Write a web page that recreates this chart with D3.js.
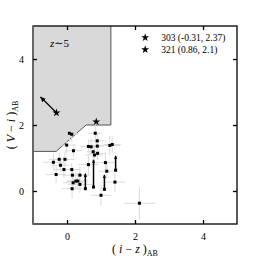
<!DOCTYPE html>
<html>
<head>
<meta charset="utf-8">
<script src="https://cdn.jsdelivr.net/npm/d3@7"></script>
<style>
  body { margin: 0; background: #fff; }
  text { font-family: "Liberation Serif", "DejaVu Serif", serif; fill: #000; }
</style>
</head>
<body>
<div id="chart"></div>
<script>
const xTicks = [0, 2, 4];
const yTicks = [0, 2, 4];

// z~5 selection region
const regionX = [-1, -1, -0.32, 0.56, 1.29, 1.29];
const regionY = [5, 1.2, 1.2, 2.0, 2.0, 5];

// sample points with errors
const ptX = [0.07, 0.14, -0.01, 0.19, 0.83, 0.89, 0.89, 0.71, 0.63, 0.77, 0.90, 1.26, 1.33,
  -0.23, -0.06, -0.19, -0.40, -0.09, 0.14, -0.32, 0.16, 0.63, 1.13, 1.17, 1.41, 1.00, 0.38,
  0.26, 0.18, 0.38, 0.15, 0.32, 0.81, 2.13];
const ptY = [1.75, 1.72, 1.39, 1.22, 1.75, 1.52, 1.36, 1.34, 1.35, 1.19, 1.14, 1.38, 1.41,
  0.96, 0.96, 0.78, 0.87, 0.65, 0.65, 0.50, 0.48, 0.80, 0.86, 0.60, 0.27, -0.13, 0.48,
  0.30, 0.25, 0.20, 0.07, 0.30, 1.09, -0.37];
const ptXErr = [0.25, 0.2, 0.3, 0.25, 0.2, 0.25, 0.2, 0.3, 0.25, 0.2, 0.25, 0.3, 0.25,
  0.3, 0.3, 0.25, 0.3, 0.3, 0.25, 0.3, 0.3, 0.3, 0.3, 0.25, 0.3, 0.3, 0.3,
  0.3, 0.3, 0.35, 0.3, 0.3, 0.25, 0.46];
const ptYErr = [0.28, 0.25, 0.25, 0.2, 0.3, 0.25, 0.2, 0.25, 0.2, 0.25, 0.2, 0.3, 0.25,
  0.25, 0.25, 0.2, 0.25, 0.25, 0.2, 0.25, 0.25, 0.3, 0.3, 0.25, 0.3, 0.3, 0.25,
  0.25, 0.25, 0.25, 0.3, 0.25, 0.3, 0.5];

// lower-limit segments
const limX = [0.54, 0.78, 1.10, 1.43];
const limLo = [0.07, 0.12, 0.05, 0.63];
const limHi = [0.52, 0.94, 0.48, 1.06];

// highlighted objects
const starNames = ['303', '321'];
const starX = [-0.31, 0.86];
const starY = [2.37, 2.1];
const arrowTo = [-0.77, 2.84];

const width = 264, height = 264;
const margin = { top: 26, right: 27, bottom: 40, left: 33 };
const innerW = width - margin.left - margin.right;
const innerH = height - margin.top - margin.bottom;

const svg = d3.select('#chart').append('svg')
  .attr('width', width).attr('height', height);

const defs = svg.append('defs');
defs.append('clipPath').attr('id', 'clip')
  .append('rect').attr('width', innerW).attr('height', innerH);

const marker = (id, size) => defs.append('marker')
  .attr('id', id).attr('viewBox', '0 0 10 10')
  .attr('refX', 8).attr('refY', 5)
  .attr('markerWidth', size).attr('markerHeight', size)
  .attr('markerUnits', 'userSpaceOnUse')
  .attr('orient', 'auto')
  .append('path').attr('d', 'M0,1L10,5L0,9Z').attr('fill', '#000');
marker('head', 6);
marker('head-sm', 4);

const g = svg.append('g').attr('transform', `translate(${margin.left},${margin.top})`);

const x = d3.scaleLinear().domain([-1, 5]).range([0, innerW]);
const y = d3.scaleLinear().domain([-1, 5]).range([innerH, 0]);

const plot = g.append('g').attr('clip-path', 'url(#clip)');

plot.append('path')
  .datum(regionX.map((v, i) => [v, regionY[i]]))
  .attr('d', d3.line(d => x(d[0]), d => y(d[1])))
  .attr('fill', '#d9d9d9')
  .attr('stroke', '#555')
  .attr('stroke-width', 1);

const idx = d3.range(ptX.length);

// error bars
plot.append('g').selectAll('line').data(idx).join('line')
  .attr('x1', i => x(ptX[i] - ptXErr[i])).attr('x2', i => x(ptX[i] + ptXErr[i]))
  .attr('y1', i => y(ptY[i])).attr('y2', i => y(ptY[i]))
  .attr('stroke', '#dadada').attr('stroke-width', 1);
plot.append('g').selectAll('line').data(idx).join('line')
  .attr('x1', i => x(ptX[i])).attr('x2', i => x(ptX[i]))
  .attr('y1', i => y(ptY[i] - ptYErr[i])).attr('y2', i => y(ptY[i] + ptYErr[i]))
  .attr('stroke', '#dadada').attr('stroke-width', 1);

// lower limits
plot.append('g').selectAll('line').data(limX).join('line')
  .attr('x1', d => x(d)).attr('x2', d => x(d))
  .attr('y1', (d, i) => y(limLo[i])).attr('y2', (d, i) => y(limHi[i]))
  .attr('stroke', '#000').attr('stroke-width', 1.5)
  .attr('marker-end', 'url(#head-sm)');
plot.append('g').selectAll('rect').data(limX).join('rect')
  .attr('x', d => x(d) - 1.5).attr('y', (d, i) => y(limLo[i]) - 1.5)
  .attr('width', 3).attr('height', 3).attr('fill', '#000');

plot.append('g').selectAll('rect').data(idx).join('rect')
  .attr('x', i => x(ptX[i]) - 1.5).attr('y', i => y(ptY[i]) - 1.5)
  .attr('width', 3).attr('height', 3).attr('fill', '#000');

// arrow and stars
plot.append('line')
  .attr('x1', x(starX[0])).attr('y1', y(starY[0]))
  .attr('x2', x(arrowTo[0])).attr('y2', y(arrowTo[1]))
  .attr('stroke', '#000').attr('stroke-width', 1.2)
  .attr('marker-end', 'url(#head)');

const star = d3.symbol().type(d3.symbolStar).size(20);
plot.append('g').selectAll('path').data(starX).join('path')
  .attr('transform', (d, i) => `translate(${x(d)},${y(starY[i])})`)
  .attr('d', star).attr('fill', '#000');

g.append('text').attr('x', x(-0.5)).attr('y', y(4.5) + 4)
  .attr('font-size', 11)
  .html('<tspan font-style="italic">z</tspan>∼5');

// legend
const leg = g.append('g').attr('transform', `translate(${x(2.3)},${y(4.65)})`);
starNames.forEach((n, i) => {
  leg.append('path').attr('transform', `translate(0,${i * 12})`).attr('d', star).attr('fill', '#000');
  leg.append('text').attr('x', 16).attr('y', i * 12 + 3.5).attr('font-size', 9.5)
    .text(`${n} (${starX[i]}, ${starY[i]})`);
});

// frame and ticks
g.append('rect').attr('width', innerW).attr('height', innerH)
  .attr('fill', 'none').attr('stroke', '#000').attr('stroke-width', 1.3);
g.append('line').attr('x1', 0).attr('x2', 0).attr('y1', 0).attr('y2', innerH)
  .attr('stroke', '#666').attr('stroke-width', 2);

const fmt = d3.format('d');
g.append('g').attr('transform', `translate(0,${innerH})`)
  .call(d3.axisBottom(x).tickValues(xTicks).tickSizeInner(-4).tickSizeOuter(0).tickPadding(9).tickFormat(fmt))
  .call(a => a.select('.domain').remove())
  .call(a => a.selectAll('text').attr('font-size', 10).attr('font-family', null));
g.append('g')
  .call(d3.axisTop(x).tickValues(xTicks).tickSizeInner(-4).tickSizeOuter(0).tickFormat(''))
  .call(a => a.select('.domain').remove());
g.append('g')
  .call(d3.axisLeft(y).tickValues(yTicks).tickSizeInner(-4).tickSizeOuter(0).tickPadding(9).tickFormat(fmt))
  .call(a => a.select('.domain').remove())
  .call(a => a.selectAll('text').attr('font-size', 10).attr('font-family', null));
g.append('g').attr('transform', `translate(${innerW},0)`)
  .call(d3.axisRight(y).tickValues(yTicks).tickSizeInner(-4).tickSizeOuter(0).tickFormat(''))
  .call(a => a.select('.domain').remove());
g.selectAll('.tick line').attr('stroke-width', 1.3);

// axis labels
svg.append('text').attr('x', margin.left + innerW / 2).attr('y', 253)
  .attr('text-anchor', 'middle').attr('font-size', 12)
  .html('( <tspan font-style="italic">i</tspan> − <tspan font-style="italic">z</tspan> )<tspan font-size="8" dy="3">AB</tspan>');
svg.append('text').attr('transform', `translate(15,${margin.top + innerH / 2}) rotate(-90)`)
  .attr('text-anchor', 'middle').attr('font-size', 12)
  .html('( <tspan font-style="italic">V</tspan> − <tspan font-style="italic">i</tspan> )<tspan font-size="8" dy="3">AB</tspan>');
</script>
</body>
</html>
